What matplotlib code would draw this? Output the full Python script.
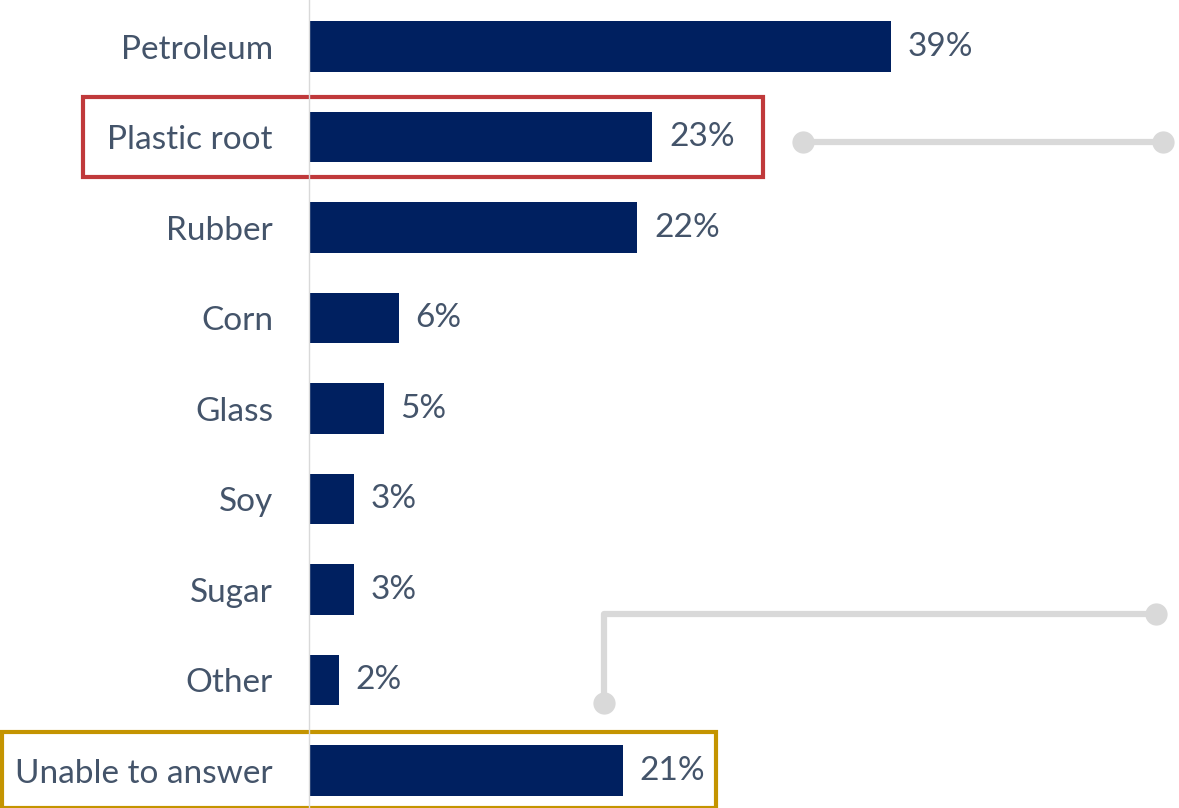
import matplotlib.pyplot as plt
from matplotlib.patches import Rectangle
from matplotlib.lines import Line2D
from matplotlib.transforms import blended_transform_factory

categories = ['Petroleum', 'Plastic root', 'Rubber', 'Corn', 'Glass', 'Soy',
              'Sugar', 'Other', 'Unable to answer']
values = [39, 23, 22, 6, 5, 3, 3, 2, 21]

BAR = '#002060'
TEXT = '#44546A'
GREY = '#D9D9D9'
FONT = 'Lato'

W, H, DPI = 1179, 808, 100
fig = plt.figure(figsize=(W / DPI, H / DPI), dpi=DPI)
ax = fig.add_axes([309 / W, 0, 1 - 309 / W, 1])

ys = list(range(len(categories)))
ax.barh(ys, values, height=0.56, color=BAR)
ax.set_ylim(8.414, -0.514)
ax.set_xlim(0, 58.27)

for y, v in zip(ys, values):
    ax.annotate(f'{v}%', (v, y), xytext=(12, 0), textcoords='offset points',
                va='center', ha='left', fontsize=24, color=TEXT, family=FONT)

ax.set_yticks(ys)
ax.set_yticklabels(categories, fontsize=24, color=TEXT, family=FONT)
ax.tick_params(axis='y', length=0, pad=26)
ax.set_xticks([])
for s in ['top', 'right', 'bottom']:
    ax.spines[s].set_visible(False)
ax.spines['left'].set_color('#D9D9D9')
ax.spines['left'].set_linewidth(1)

# highlight boxes: x in figure fraction, y in data units
tr = blended_transform_factory(fig.transFigure, ax.transData)
ax.add_patch(Rectangle((83 / W, 1 - 0.44), (763 - 83) / W, 0.88, transform=tr,
                       fill=False, edgecolor='#C0393B', lw=3, clip_on=False))
ax.add_patch(Rectangle((2 / W, 8 - 0.43), (716 - 2) / W, 0.84, transform=tr,
                       fill=False, edgecolor='#C49400', lw=3, clip_on=False))

# connector lines
def connector(xs, ys_):
    ax.add_line(Line2D(xs, ys_, transform=tr, color=GREY, lw=4.5,
                       solid_capstyle='butt', clip_on=False))
    ax.plot([xs[0], xs[-1]], [ys_[0], ys_[-1]], 'o', transform=tr, color=GREY,
            ms=15, clip_on=False)

connector([803 / W, 1163 / W], [1.05, 1.05])
connector([604 / W, 604 / W, 1156 / W], [7.25, 6.27, 6.27])

fig.savefig('out.png', dpi=DPI)
